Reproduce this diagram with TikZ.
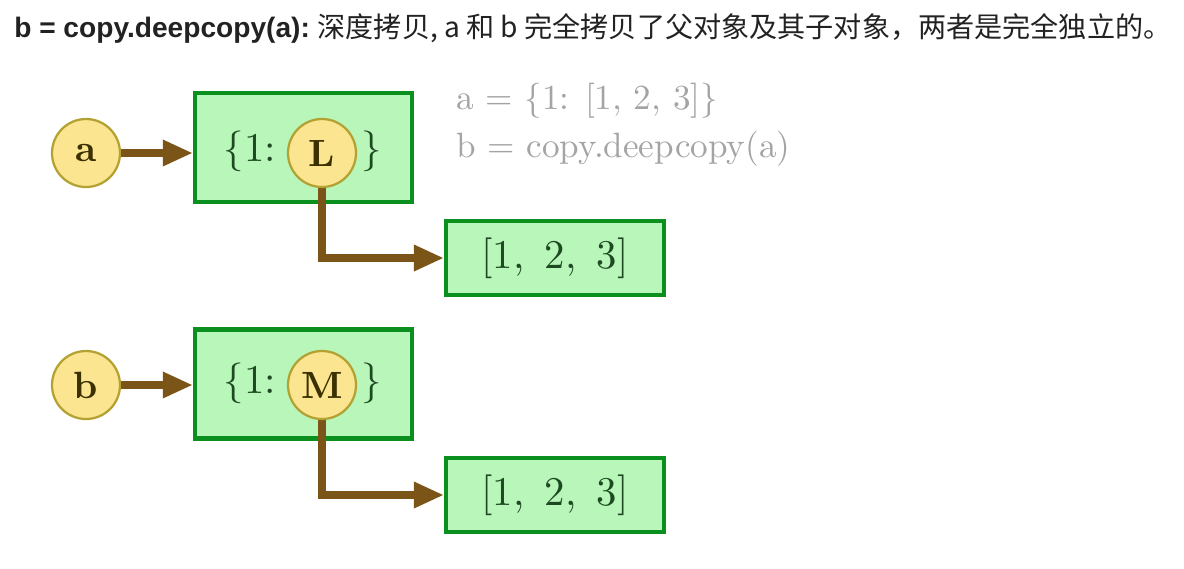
\documentclass[tikz,border=0pt]{standalone}
\usepackage{fontspec}
\newfontfamily\cjkfont{Noto Sans CJK SC}
\newfontfamily\headfont{Liberation Sans}
\newfontfamily\diagfont{lmroman10-regular}[Extension=.otf, BoldFont=lmroman10-bold]
\newcommand{\widegaps}{\spaceskip=0.5em plus 0.1em\relax}
\usepackage{tikz}
\usetikzlibrary{arrows.meta,positioning,shadows}
\definecolor{varfill}{HTML}{FBE591}
\definecolor{vardraw}{HTML}{B3A232}
\definecolor{vartext}{HTML}{3A3000}
\definecolor{objfill}{HTML}{B9F6BA}
\definecolor{objdraw}{HTML}{0B8F1E}
\definecolor{objtext}{HTML}{1E4A22}
\definecolor{refcolor}{HTML}{7B5418}
\definecolor{notegray}{HTML}{A4A4A4}
\definecolor{headgray}{HTML}{222222}

\begin{document}
\begin{tikzpicture}[
  x=0.025cm, y=-0.025cm,
  var/.style={circle, draw=vardraw, fill=varfill, line width=1.6pt, minimum size=1.7cm, inner sep=0pt, text=vartext, font=\diagfont\fontsize{27}{30}\selectfont\bfseries},
  obj/.style={draw=objdraw, fill=objfill, line width=3pt, inner sep=0pt, drop shadow={opacity=0.12, shadow xshift=1.5pt, shadow yshift=-1.5pt}},
  objlabel/.style={text=objtext, inner sep=0pt, font=\diagfont\fontsize{29}{32}\selectfont, execute at begin node=\widegaps},
  note/.style={text=notegray, anchor=west, inner sep=0pt, font=\diagfont\fontsize{25}{28}\selectfont},
  ref/.style={draw=refcolor, line width=5pt, -{Triangle[length=0.75cm, width=0.62cm]}},
]
\useasboundingbox (0,0) rectangle (1184,568);

% heading line
\node[anchor=west, inner sep=0pt, text=headgray, font=\fontsize{20}{24}\selectfont] (head) at (14,28)
  {\headfont\bfseries b = copy.deepcopy(a):\ \cjkfont\mdseries 深度拷贝, a 和 b 完全拷贝了父对象及其子对象，两者是完全独立的。};

% code notes
\node[note] (codea) at (456,101) {a = \{1: [1, 2, 3]\}};
\node[note] (codeb) at (456,149) {b = copy.deepcopy(a)};

% a -> {1: L} -> [1, 2, 3]
\node[var] (a) at (86,153) {a};
\node[obj, minimum width=5.43cm, minimum height=2.72cm] (dicta) at (303.5,147.5) {};
\node[obj, minimum width=5.45cm, minimum height=1.85cm] (lista) at (555,258) {};
\node[objlabel] (lista-txt) at (lista) {[1, 2, 3]};
\node[objlabel] (keya) at (250,151) {\{1:};
\node[objlabel] (closea) at (372,151) {\}};
\draw[ref] (a.east) -- (a.east -| dicta.west);
\draw[ref] (322,170) |- (lista.west);
\node[var] (L) at (322,153) {L};

% b -> {1: M} -> [1, 2, 3]
\node[var] (b) at (86,385) {b};
\node[obj, minimum width=5.43cm, minimum height=2.72cm] (dictb) at (303.5,384) {};
\node[obj, minimum width=5.45cm, minimum height=1.85cm] (listb) at (555,495) {};
\node[objlabel] (listb-txt) at (listb) {[1, 2, 3]};
\node[objlabel] (keyb) at (250,383) {\{1:};
\node[objlabel] (closeb) at (372,383) {\}};
\draw[ref] (b.east) -- (b.east -| dictb.west);
\draw[ref] (322,402) |- (listb.west);
\node[var] (M) at (322,385) {M};

\end{tikzpicture}
\end{document}
